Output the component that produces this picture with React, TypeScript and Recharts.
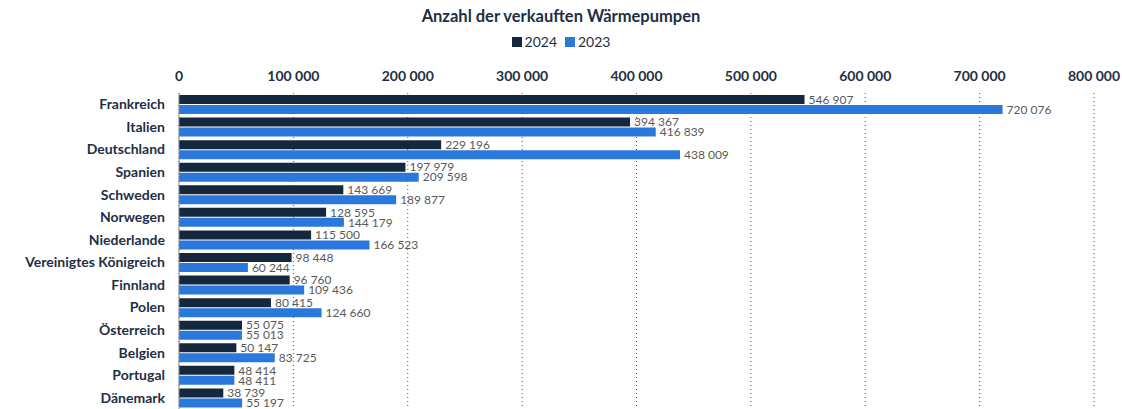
import React from 'react'
import { BarChart, Bar, XAxis, YAxis, CartesianGrid, LabelList } from 'recharts'

const countries = [
  'Frankreich', 'Italien', 'Deutschland', 'Spanien', 'Schweden', 'Norwegen', 'Niederlande',
  'Vereinigtes Königreich', 'Finnland', 'Polen', 'Österreich', 'Belgien', 'Portugal', 'Dänemark',
]
const sales2024 = [546907, 394367, 229196, 197979, 143669, 128595, 115500, 98448, 96760, 80415, 55075, 50147, 48414, 38739]
const sales2023 = [720076, 416839, 438009, 209598, 189877, 144179, 166523, 60244, 109436, 124660, 55013, 83725, 48411, 55197]
const xTicks = [0, 100000, 200000, 300000, 400000, 500000, 600000, 700000, 800000]

const DARK = '#14273d'
const BLUE = '#2a78db'
const TEXT = '#1e2f45'
const FONT = 'Lato, "Open Sans", sans-serif'

// 1 234 567 style
const fmt = (v: number) => String(v).replace(/\B(?=(\d{3})+(?!\d))/g, ' ')

export default function App() {
  const data = countries.map((c, i) => ({ country: c, y2024: sales2024[i], y2023: sales2023[i] }))

  return (
    <div style={{ position: 'absolute', left: 0, top: 0, width: 1122, height: 409, background: '#fff', fontFamily: FONT }}>
      <div style={{ position: 'absolute', top: 6, width: '100%', textAlign: 'center', fontWeight: 700, fontSize: 16.5, color: TEXT }}>
        Anzahl der verkauften Wärmepumpen
      </div>
      <div style={{ position: 'absolute', top: 33, width: '100%', display: 'flex', justifyContent: 'center', gap: 8, fontSize: 14, color: TEXT }}>
        <span style={{ display: 'flex', alignItems: 'center', gap: 3 }}>
          <span style={{ width: 10, height: 10, background: DARK, display: 'inline-block' }} />2024
        </span>
        <span style={{ display: 'flex', alignItems: 'center', gap: 3 }}>
          <span style={{ width: 10, height: 10, background: BLUE, display: 'inline-block' }} />2023
        </span>
      </div>
      <BarChart
        width={1122}
        height={409}
        data={data}
        layout="vertical"
        margin={{ top: 63, right: 28, left: 0, bottom: 0 }}
        barGap={1}
        barSize={9}
      >
        <CartesianGrid horizontal={false} stroke="#555" strokeDasharray="1 3" />
        <XAxis
          type="number"
          orientation="top"
          domain={[0, 800000]}
          ticks={xTicks}
          tickFormatter={fmt}
          axisLine={false}
          tickLine={false}
          tickSize={0}
          tickMargin={12}
          height={30}
          interval={0}
          tick={{ fontSize: 14, fontWeight: 700, fill: TEXT, fontFamily: FONT }}
        />
        <YAxis
          type="category"
          dataKey="country"
          width={179}
          axisLine={{ stroke: '#8a8a8a' }}
          tickLine={false}
          tickSize={0}
          tickMargin={14}
          interval={0}
          tick={{ fontSize: 14, fontWeight: 700, fill: TEXT, fontFamily: FONT }}
        />
        <Bar dataKey="y2024" fill={DARK} isAnimationActive={false}>
          <LabelList dataKey="y2024" position="right" offset={4} formatter={(v: number) => fmt(v)}
            style={{ fontSize: 12, fill: '#595959', fontFamily: FONT }} />
        </Bar>
        <Bar dataKey="y2023" fill={BLUE} isAnimationActive={false}>
          <LabelList dataKey="y2023" position="right" offset={4} formatter={(v: number) => fmt(v)}
            style={{ fontSize: 12, fill: '#595959', fontFamily: FONT }} />
        </Bar>
      </BarChart>
    </div>
  )
}
